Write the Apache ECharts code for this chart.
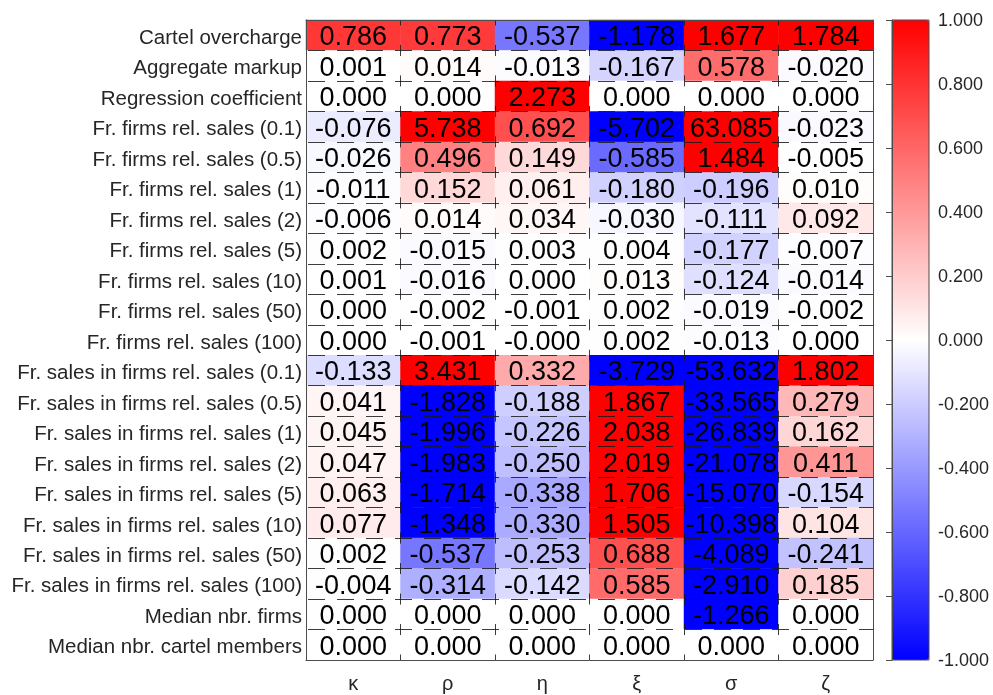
<!DOCTYPE html>
<html>
<head>
<meta charset="utf-8">
<script src="https://cdn.jsdelivr.net/npm/echarts@6/dist/echarts.min.js"></script>
<style>
html,body{margin:0;padding:0;background:#fff;}
#chart{width:993px;height:695px;}
</style>
</head>
<body>
<div id="chart"></div>
<script>
const columns = ['κ', 'ρ', 'η', 'ξ', 'σ', 'ζ'];
const rows = [
  'Cartel overcharge',
  'Aggregate markup',
  'Regression coefficient',
  'Fr. firms rel. sales (0.1)',
  'Fr. firms rel. sales (0.5)',
  'Fr. firms rel. sales (1)',
  'Fr. firms rel. sales (2)',
  'Fr. firms rel. sales (5)',
  'Fr. firms rel. sales (10)',
  'Fr. firms rel. sales (50)',
  'Fr. firms rel. sales (100)',
  'Fr. sales in firms rel. sales (0.1)',
  'Fr. sales in firms rel. sales (0.5)',
  'Fr. sales in firms rel. sales (1)',
  'Fr. sales in firms rel. sales (2)',
  'Fr. sales in firms rel. sales (5)',
  'Fr. sales in firms rel. sales (10)',
  'Fr. sales in firms rel. sales (50)',
  'Fr. sales in firms rel. sales (100)',
  'Median nbr. firms',
  'Median nbr. cartel members'
];
const values = [
  [0.786, 0.773, -0.537, -1.178, 1.677, 1.784],
  [0.001, 0.014, -0.013, -0.167, 0.578, -0.020],
  [0.000, 0.000, 2.273, 0.000, 0.000, 0.000],
  [-0.076, 5.738, 0.692, -5.702, 63.085, -0.023],
  [-0.026, 0.496, 0.149, -0.585, 1.484, -0.005],
  [-0.011, 0.152, 0.061, -0.180, -0.196, 0.010],
  [-0.006, 0.014, 0.034, -0.030, -0.111, 0.092],
  [0.002, -0.015, 0.003, 0.004, -0.177, -0.007],
  [0.001, -0.016, 0.000, 0.013, -0.124, -0.014],
  [0.000, -0.002, -0.001, 0.002, -0.019, -0.002],
  [0.000, -0.001, -0.0001, 0.002, -0.013, 0.000],
  [-0.133, 3.431, 0.332, -3.729, -53.632, 1.802],
  [0.041, -1.828, -0.188, 1.867, -33.565, 0.279],
  [0.045, -1.996, -0.226, 2.038, -26.839, 0.162],
  [0.047, -1.983, -0.250, 2.019, -21.078, 0.411],
  [0.063, -1.714, -0.338, 1.706, -15.070, -0.154],
  [0.077, -1.348, -0.330, 1.505, -10.398, 0.104],
  [0.002, -0.537, -0.253, 0.688, -4.089, -0.241],
  [-0.004, -0.314, -0.142, 0.585, -2.910, 0.185],
  [0.000, 0.000, 0.000, 0.000, -1.266, 0.000],
  [0.000, 0.000, 0.000, 0.000, 0.000, 0.000]
];
const colorRange = [-1, 1];
const colorTickStep = 0.2;

const data = [];
values.forEach((r, i) => r.forEach((v, j) => data.push([j, i, v])));

const FONT = 'Liberation Sans, Arial, sans-serif';
const AX = '#4d4d4d';
const TXT = '#262626';
const hLine = {show: true, lineStyle: {color: '#1a1a1a', width: 1, type: [17, 12], dashOffset: 27, opacity: 0.85}};
const vLine = {show: true, lineStyle: {color: '#1a1a1a', width: 1, type: [11, 19.476], dashOffset: 5.5, opacity: 0.85}};

const chart = echarts.init(document.getElementById('chart'), null, {renderer: 'canvas'});
chart.setOption({
  animation: false,
  backgroundColor: '#ffffff',
  grid: [
    {left: 306, top: 20, width: 567, height: 640, containLabel: false},
    {left: 892, top: 20, width: 37, height: 640, show: true, borderColor: AX, borderWidth: 1, backgroundColor: 'transparent', z: 6}
  ],
  xAxis: [
    {type: 'category', data: columns, gridIndex: 0, position: 'bottom', z: 3,
     axisLine: {lineStyle: {color: AX}}, axisTick: {inside: true, length: 8, alignWithLabel: true, lineStyle: {color: AX}},
     axisLabel: {fontFamily: FONT, fontSize: 20, color: TXT, margin: 14},
     splitLine: vLine},
    {type: 'category', data: columns, gridIndex: 0, position: 'top', z: 3,
     axisLine: {lineStyle: {color: AX}}, axisTick: {inside: true, length: 8, alignWithLabel: true, lineStyle: {color: AX}},
     axisLabel: {show: false}, splitLine: {show: false}},
    {type: 'value', gridIndex: 1, show: false, min: 0, max: 1}
  ],
  yAxis: [
    {type: 'category', data: rows, gridIndex: 0, inverse: true, position: 'left', z: 3,
     axisLine: {lineStyle: {color: AX}}, axisTick: {inside: true, length: 6, alignWithLabel: true, lineStyle: {color: AX}},
     axisLabel: {color: TXT, margin: 4,
       formatter: v => '{a|' + v + '}',
       rich: {a: {fontFamily: FONT, fontSize: 20.5, color: TXT, padding: [6, 0, 0, 0]}}},
     splitLine: hLine},
    {type: 'category', data: rows, gridIndex: 0, inverse: true, position: 'right', z: 3,
     axisLine: {lineStyle: {color: AX}}, axisTick: {inside: true, length: 6, alignWithLabel: true, lineStyle: {color: AX}},
     axisLabel: {show: false}, splitLine: {show: false}},
    {type: 'value', gridIndex: 1, position: 'right', min: colorRange[0], max: colorRange[1], interval: colorTickStep, z: 7,
     axisLine: {show: true, lineStyle: {color: AX}},
     axisTick: {show: true, inside: true, length: 6, lineStyle: {color: AX}},
     splitLine: {show: false},
     axisLabel: {color: TXT, margin: 9,
       formatter: v => '{a|' + (Math.abs(v) < 1e-9 ? 0 : v).toFixed(3) + '}',
       rich: {a: {fontFamily: FONT, fontSize: 18, color: TXT, padding: [3, 0, 0, 0]}}}}
  ],
  visualMap: {
    type: 'continuous', min: colorRange[0], max: colorRange[1], seriesIndex: 0,
    calculable: false, show: true, orient: 'vertical', left: 892, top: 20, padding: 0,
    itemWidth: 37, itemHeight: 640, text: null, showLabel: false,
    inRange: {color: ['#0000ff', '#ffffff', '#ff0000']}, hoverLink: false
  },
  series: [{
    type: 'heatmap', xAxisIndex: 0, yAxisIndex: 0, data: data,
    label: {show: true, fontFamily: FONT, fontSize: 27, color: '#000', offset: [0, 2.5],
      formatter: p => p.value[2].toFixed(3)},
    emphasis: {disabled: true},
    itemStyle: {borderWidth: 0}
  }]
});
</script>
</body>
</html>
